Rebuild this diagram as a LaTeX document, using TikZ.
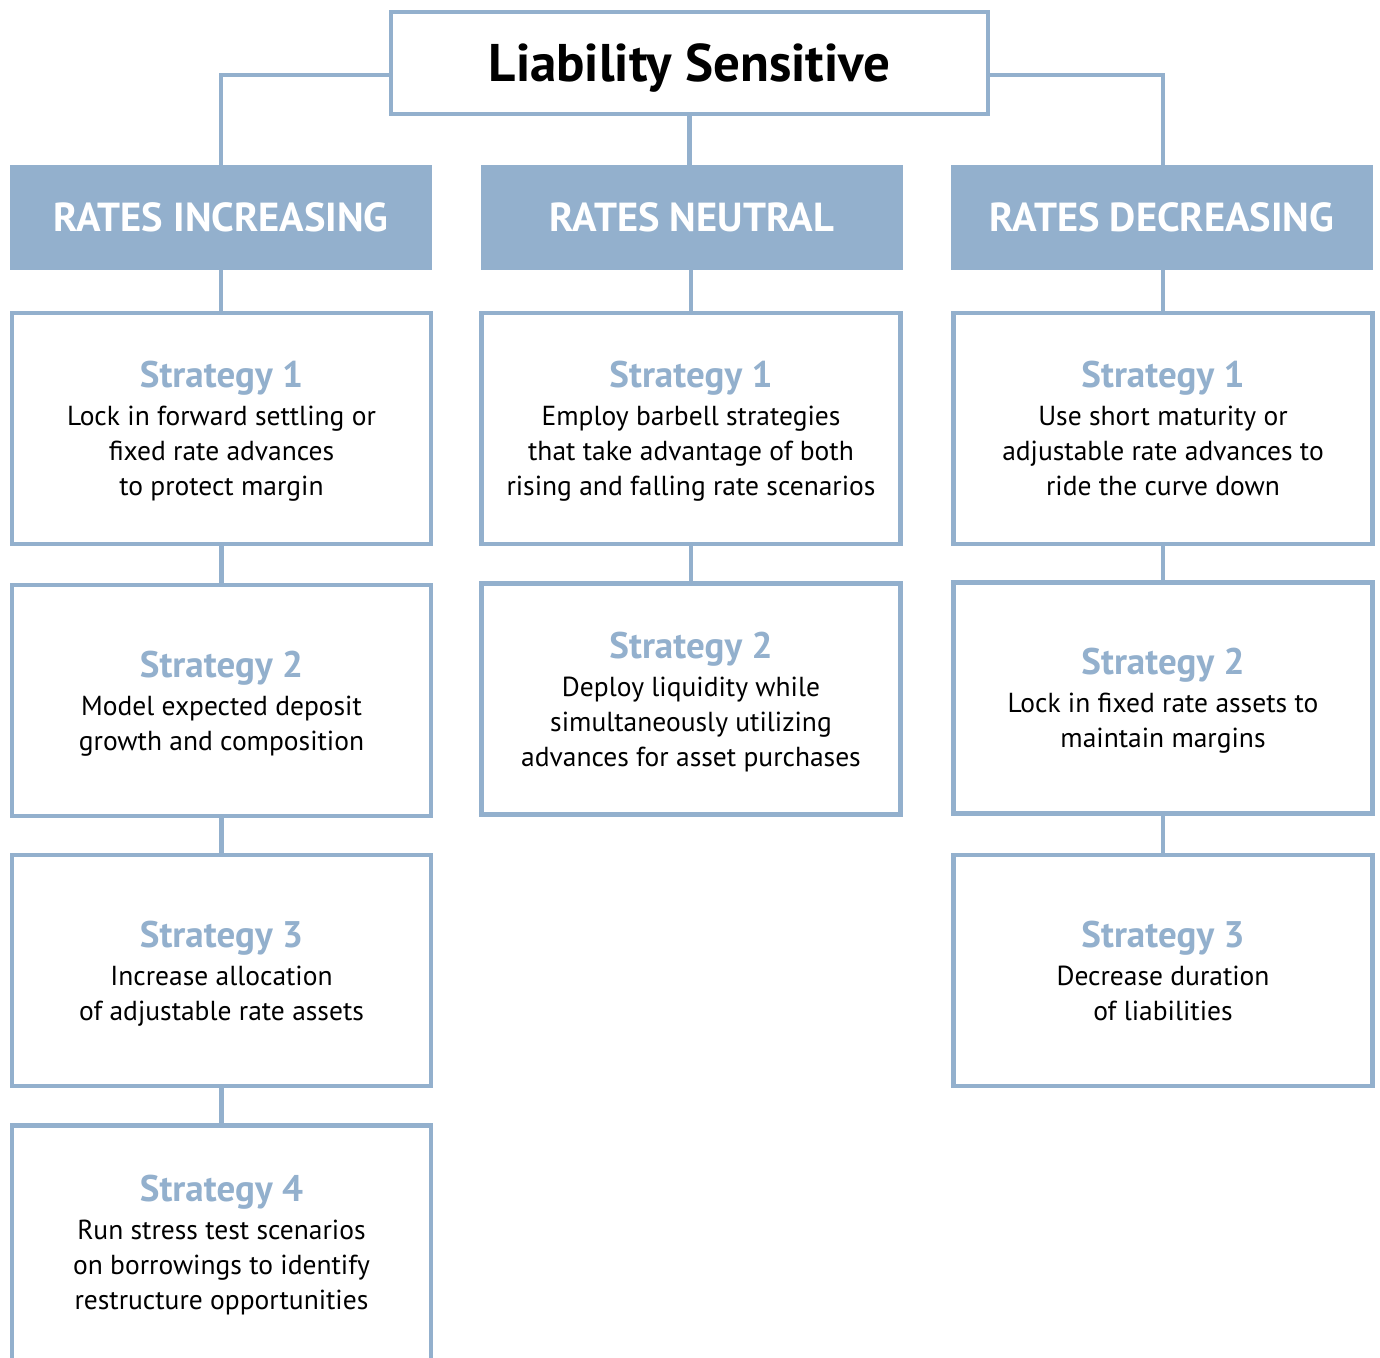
\documentclass[tikz,border=0pt]{standalone}
\usepackage{fontspec}
\setmainfont{PT Sans}
\definecolor{lsblue}{RGB}{147,176,205}
\newcommand{\strat}[2]{{\fontsize{37}{40}\selectfont\bfseries\color{lsblue}Strategy #1}\\[3pt]#2}
\begin{document}
\begin{tikzpicture}[x=1pt,y=-1pt,
  conn/.style={draw=lsblue,line width=4.5pt},
  topbox/.style={draw=lsblue,line width=4.5pt,fill=white,inner sep=0pt,minimum width=597pt,minimum height=102pt,text height=37pt,text depth=0pt,font=\fontsize{53}{60}\selectfont\bfseries},
  head/.style={fill=lsblue,draw=none,inner sep=0pt,minimum width=422pt,minimum height=105pt,text height=28pt,text depth=0pt,text=white,font=\fontsize{40.5}{42}\selectfont\bfseries},
  sbox/.style={draw=lsblue,line width=4.5pt,fill=white,inner sep=0pt,minimum width=419pt,minimum height=231pt,align=center,text depth=0pt,font=\fontsize{27.5}{35}\selectfont}]
\useasboundingbox (0,0) rectangle (1380,1357);
\clip (0,0) rectangle (1380,1357);
\fill[white] (0,0) rectangle (1380,1357);
% nodes
\node[topbox] (top) at (689.5,63) {Liability Sensitive};
\node[head] (hl) at (221,217.5) {RATES INCREASING};
\node[head] (hm) at (692,217.5) {RATES NEUTRAL};
\node[head] (hr) at (1162,217.5) {RATES DECREASING};
\node[sbox] (l1) at (221.5,428.5) {\strat{1}{Lock in forward settling or\\fixed rate advances\\to protect margin}};
\node[sbox] (l2) at (221.5,700.5) {\strat{2}{Model expected deposit\\growth and composition}};
\node[sbox] (l3) at (221.5,970.5) {\strat{3}{Increase allocation\\of adjustable rate assets}};
\node[sbox,minimum height=249pt,text depth=16pt] (l4) at (221.5,1250) {\strat{4}{Run stress test scenarios\\on borrowings to identify\\restructure opportunities}};
\node[sbox] (m1) at (691,428.5) {\strat{1}{Employ barbell strategies\\that take advantage of both\\rising and falling rate scenarios}};
\node[sbox] (m2) at (691,699) {\strat{2}{Deploy liquidity while\\simultaneously utilizing\\advances for asset purchases}};
\node[sbox] (r1) at (1163,428.5) {\strat{1}{Use short maturity or\\adjustable rate advances to\\ride the curve down}};
\node[sbox] (r2) at (1163,698) {\strat{2}{Lock in fixed rate assets to\\maintain margins}};
\node[sbox] (r3) at (1163,970.5) {\strat{3}{Decrease duration\\of liabilities}};
% connectors
\draw[conn] ([yshift=-12pt]top.west) -| (hl.north);
\draw[conn] ([yshift=-12pt]top.east) -| ([xshift=1pt]hr.north);
\draw[conn] (top.south) -- (top.south |- hm.north);
\draw[conn] (hl.south) -- (hl.south |- l1.north);
\draw[conn] (hm.south -| m1.north) -- (m1.north);
\draw[conn] (hr.south -| r1.north) -- (r1.north);
\draw[conn] (l1.south) -- (l2.north);
\draw[conn] (l2.south) -- (l3.north);
\draw[conn] (l3.south) -- (l4.north);
\draw[conn] (m1.south) -- (m2.north);
\draw[conn] (r1.south) -- (r2.north);
\draw[conn] (r2.south) -- (r3.north);
\end{tikzpicture}
\end{document}
